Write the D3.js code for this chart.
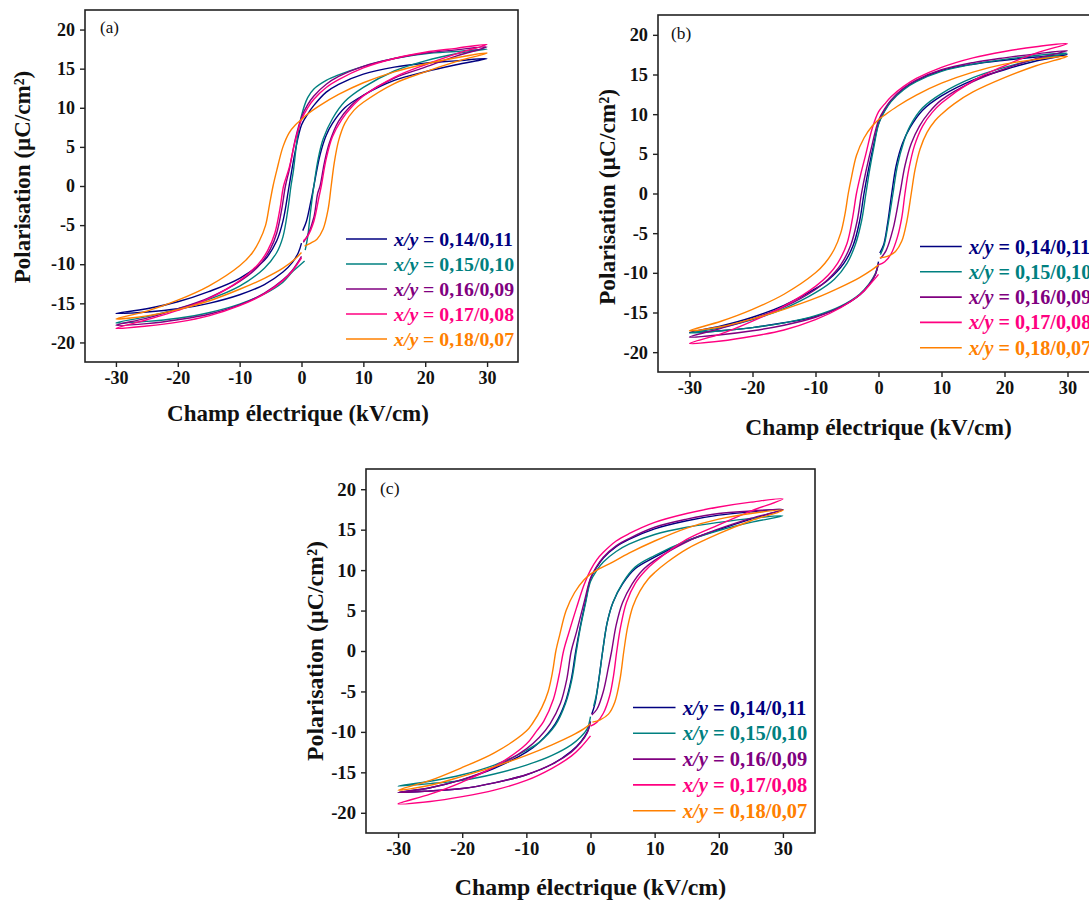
<!DOCTYPE html>
<html><head><meta charset="utf-8">
<script src="https://cdn.jsdelivr.net/npm/d3@7"></script>
<style>
html,body{margin:0;padding:0;background:#fff;}
svg{display:block;font-family:"Liberation Serif","Times New Roman",serif;}
</style></head>
<body><svg id="chart" width="1089" height="900"></svg>
<script>
// ---------- data ----------
const categories = ["0,14/0,11","0,15/0,10","0,16/0,09","0,17/0,08","0,18/0,07"];
const seriesColors = ["#000080","#008080","#800080","#ff0080","#ff8000"];
const xTicks = [-30,-20,-10,0,10,20,30];
const yTicks = [20,15,10,5,0,-5,-10,-15,-20];
const panelLabels = ["(a)","(b)","(c)"];
const xTitle = "Champ électrique (kV/cm)";
const yTitle = "Polarisation (µC/cm²)";

// Panel (a) loops: [E (kV/cm), P (µC/cm²)]
const a014 = [[0.2,-5.7],[0.8,-4.5],[1.5,-2],[2,0],[3,4],[4,6.5],[5,8],[7,10],[10,11.6],[15,13.5],[20,14.6],[25,15.5],[30,16.3],
  [25,16.0],[20,15.7],[15,15.2],[10,14.3],[6,13.0],[4,12],[2,10.3],[1,9.2],[0,7.8],[-1,4.5],[-2,0],[-3,-4.5],[-4,-7],[-6,-9.5],[-10,-11.8],[-15,-13.5],[-20,-14.8],[-25,-15.7],[-30,-16.3],
  [-25,-16.1],[-20,-15.7],[-15,-15.0],[-10,-13.9],[-6,-12.6],[-3,-11],[-1.5,-9.8],[-0.5,-8.5],[0,-7.3]];
const a015 = [[0.6,-8.2],[1,-6.5],[1.5,-3],[2,0],[2.7,3.5],[3.5,6],[5,8.6],[7,10.8],[10,12.6],[15,14.7],[20,16.0],[25,16.9],[30,17.5],
  [25,17.2],[20,16.9],[15,16.3],[10,15.3],[6,14.2],[4,13.5],[2,12.4],[1,11.3],[0,9.0],[-0.7,6],[-1.3,2],[-1.7,0],[-2.2,-3],[-3,-6.5],[-4,-8.5],[-6,-10.5],[-10,-12.8],[-15,-14.5],[-20,-15.7],[-25,-16.7],[-30,-17.5],
  [-25,-17.3],[-20,-16.9],[-15,-16.2],[-10,-15.1],[-6,-13.8],[-3,-12.3],[-1.5,-11],[-0.5,-10.3],[0.5,-9.6]];
const a016 = [[0.3,-7.2],[1,-6.3],[2,-4],[2.6,-1],[3,0],[3.7,3],[4.5,5.5],[6,8.3],[8,10.3],[10,11.6],[15,13.8],[20,15.2],[25,16.6],[30,17.8],
  [25,17.4],[20,17.0],[15,16.3],[10,15.3],[6,14.0],[4,13],[2,11.5],[1,10.4],[0,8.8],[-1,6],[-2,2],[-2.6,0],[-3.2,-3],[-4,-6],[-5,-8],[-7,-10.3],[-10,-12.2],[-15,-14.3],[-20,-15.7],[-25,-16.9],[-30,-17.8],
  [-25,-17.6],[-20,-17.1],[-15,-16.4],[-10,-15.2],[-6,-13.7],[-3,-12],[-1.5,-10.8],[0,-9]];
const a017 = [[0.3,-7.0],[1,-6.4],[2,-4.5],[2.8,-1.5],[3.2,0],[4,3.5],[5,6.3],[6.5,8.5],[8,10],[10,11.5],[15,13.9],[20,15.5],[25,16.9],[30,18.1],
  [25,17.6],[20,17.1],[15,16.3],[10,15.1],[6,13.6],[4,12.6],[2,11.1],[1,10],[0,8.5],[-1,5.8],[-2,2.3],[-2.9,0],[-3.5,-3],[-4.3,-6],[-5.5,-8.3],[-7,-10],[-10,-12.1],[-15,-14.4],[-20,-15.9],[-25,-17.1],[-30,-18.2],
  [-25,-17.9],[-20,-17.4],[-15,-16.6],[-10,-15.3],[-6,-13.8],[-3,-12.1],[-1.5,-10.9],[0,-9.2]];
const a018 = [[0.5,-7.7],[1.5,-7.3],[2.5,-6.8],[3.5,-5.5],[4.3,-3],[4.8,0],[5.3,3],[6,5.8],[7,8],[8.5,9.7],[10,10.7],[15,13.1],[20,14.6],[25,15.9],[30,17.0],
  [25,16.4],[20,15.6],[15,14.6],[10,13.2],[6,11.7],[3,10.3],[1,9.2],[0,8.5],[-1,7.8],[-2,6.8],[-3,5],[-4,2],[-4.6,0],[-5.2,-2.5],[-5.8,-5],[-6.8,-7],[-8,-8.6],[-10,-10.2],[-15,-12.8],[-20,-14.6],[-25,-16],[-30,-17.0],
  [-25,-16.6],[-20,-15.8],[-15,-14.7],[-10,-13.2],[-6,-11.8],[-3,-10.5],[-1,-9.3],[0,-8.5]];

// Panel (b) loops
const b014 = [[0.2,-7.5],[0.8,-6.5],[1.4,-4],[2.1,0],[2.8,3.5],[3.8,6.3],[5,8.3],[7,10.5],[10,12.3],[15,14.3],[20,15.6],[25,16.7],[30,17.5],
  [25,17.2],[20,16.8],[15,16.3],[10,15.5],[6,14.2],[4,13.2],[2,11.7],[1,10.5],[0,8.8],[-0.8,6],[-1.6,3],[-2.3,0],[-3,-3.5],[-4,-6.5],[-5.5,-8.8],[-8,-10.9],[-10,-12],[-15,-14.1],[-20,-15.6],[-25,-16.7],[-30,-17.5],
  [-25,-17.3],[-20,-16.9],[-15,-16.3],[-10,-15.5],[-6,-14.3],[-3,-12.8],[-1.5,-11.5],[-0.5,-10.2],[0,-8.6]];
const b015 = [[0.3,-7.7],[0.9,-6.5],[1.6,-3.5],[2.3,0],[3,3.5],[4,6.5],[5,8.5],[7,10.8],[10,12.6],[15,14.6],[20,15.9],[25,16.9],[30,17.7],
  [25,17.4],[20,16.9],[15,16.3],[10,15.4],[6,14.1],[4,13.1],[2,11.6],[1,10.4],[0,8.7],[-0.7,6],[-1.4,3],[-2.0,0],[-2.7,-3.5],[-3.7,-6.5],[-5,-8.8],[-7,-10.8],[-10,-12.5],[-15,-14.5],[-20,-15.9],[-25,-16.9],[-30,-17.6],
  [-25,-17.3],[-20,-16.9],[-15,-16.3],[-10,-15.4],[-6,-14.2],[-3,-12.7],[-1.5,-11.4],[-0.5,-10.1],[0,-8.8]];
const b016 = [[0.3,-8.2],[1.2,-7.2],[2.3,-4.5],[3.4,0],[4.2,3.5],[5.2,6.3],[6.5,8.5],[8,10.2],[10,11.8],[15,14.1],[20,15.7],[25,17],[30,18.0],
  [25,17.6],[20,17.1],[15,16.5],[10,15.6],[6,14.3],[4,13.3],[2,11.8],[1,10.7],[0,9.2],[-1,6.2],[-2,2.8],[-2.7,0],[-3.4,-3.5],[-4.4,-6.5],[-6,-9],[-8,-10.8],[-10,-12.1],[-15,-14.3],[-20,-15.8],[-25,-17],[-30,-18.1],
  [-25,-17.8],[-20,-17.3],[-15,-16.6],[-10,-15.6],[-6,-14.3],[-3,-12.8],[-1.5,-11.5],[-0.5,-10.2],[0,-8.8]];
const b017 = [[0,-9.0],[1,-8.6],[2,-7.6],[3,-5.5],[3.7,-3],[4.2,0],[4.8,3],[5.7,6],[7,8.5],[8.5,10.2],[10,11.4],[15,14.2],[20,16.1],[25,17.7],[30,18.9],
  [25,18.5],[20,17.9],[15,17.1],[10,15.9],[6,14.5],[4,13.5],[2,12.2],[1,11.3],[0,10.3],[-1,8.2],[-2,5],[-2.8,2.5],[-3.5,0],[-4.1,-3],[-5,-6.3],[-6.5,-8.8],[-8,-10.3],[-10,-11.7],[-15,-14.2],[-20,-16.1],[-25,-17.7],[-30,-18.9],
  [-25,-18.6],[-20,-18.0],[-15,-17.2],[-10,-15.9],[-6,-14.4],[-3,-12.8],[-1.5,-11.6],[0,-10.2]];
const b018 = [[0.2,-8.1],[1.5,-7.9],[2.7,-7.3],[3.7,-6],[4.5,-3.5],[5.2,0],[5.8,3],[6.6,5.6],[7.7,7.7],[9,9.2],[10,10],[12,11.3],[15,12.8],[20,14.6],[25,16.1],[30,17.3],
  [25,16.9],[20,16.3],[15,15.3],[10,13.9],[6,12.4],[3,11],[1,9.9],[0,9.3],[-1,8.5],[-2.3,7],[-3.5,4.8],[-4.3,2],[-4.8,0],[-5.3,-2.5],[-6,-5],[-7,-7],[-8.5,-8.8],[-10,-10],[-15,-12.7],[-20,-14.6],[-25,-16.1],[-30,-17.3],
  [-25,-16.8],[-20,-15.8],[-15,-14.6],[-10,-13.2],[-6,-11.8],[-3,-10.6],[-1,-9.6],[0,-9.0]];

// Panel (c) loops
const c014 = [[0.2,-7.8],[0.7,-6.5],[1.3,-3.5],[1.9,0],[2.6,3.5],[3.5,6],[5,8.3],[7,10.2],[10,11.6],[15,13.6],[20,15.0],[25,16.3],[30,17.5],
  [25,17.2],[20,16.8],[15,16.1],[10,15.1],[6,13.8],[4,12.9],[2,11.5],[1,10.4],[0,8.9],[-0.8,6],[-1.6,3],[-2.3,0],[-3,-3.5],[-4,-6.5],[-5.5,-9],[-8,-11.3],[-10,-12.5],[-15,-14.5],[-20,-15.9],[-25,-16.9],[-30,-17.5],
  [-25,-17.3],[-20,-17.0],[-15,-16.3],[-10,-15.3],[-6,-14.0],[-3,-12.4],[-1.5,-11.2],[-0.5,-10],[0,-8.7]];
const c015 = [[0.5,-6.8],[0.9,-5.5],[1.4,-3],[1.9,0],[2.6,3.5],[3.5,6],[5,8.4],[7,10.4],[10,11.8],[15,13.6],[20,14.9],[25,15.9],[30,16.7],
  [25,16.4],[20,15.9],[15,15.3],[10,14.4],[6,13.2],[4,12.3],[2,11],[1,10],[0,8.6],[-0.8,5.8],[-1.6,2.8],[-2.2,0],[-2.9,-3.5],[-3.9,-6.5],[-5.5,-9.2],[-8,-11.3],[-10,-12.3],[-15,-14.1],[-20,-15.3],[-25,-16.1],[-30,-16.7],
  [-25,-16.4],[-20,-16.0],[-15,-15.2],[-10,-14.1],[-6,-12.9],[-3,-11.6],[-1.5,-10.6],[-0.5,-9.6],[0,-8.1]];
const c016 = [[0.2,-7.9],[1,-7.2],[2,-5],[2.8,-2],[3.3,0],[4,3.2],[5,6],[6.5,8.3],[8,9.9],[10,11.2],[15,13.5],[20,15.1],[25,16.4],[30,17.5],
  [25,17.3],[20,17.0],[15,16.3],[10,15.3],[6,13.9],[4,13.0],[2,11.6],[1,10.5],[0,9.0],[-1,6],[-2.2,2.3],[-3,0],[-3.7,-3.5],[-4.7,-6.5],[-6.3,-9],[-8,-10.7],[-10,-12.1],[-15,-14.4],[-20,-15.9],[-25,-16.9],[-30,-17.5],
  [-25,-17.3],[-20,-17.0],[-15,-16.3],[-10,-15.3],[-6,-14.0],[-3,-12.5],[-1.5,-11.3],[-0.5,-10.1],[0,-8.8]];
const c017 = [[0,-9.3],[1,-8.8],[2,-7.7],[3,-5.5],[3.6,-3],[4.1,0],[4.7,3],[5.6,6],[7,8.4],[8.5,9.9],[10,11],[15,13.8],[20,15.6],[25,17.3],[30,18.8],
  [25,18.4],[20,17.8],[15,17.0],[10,15.9],[6,14.5],[4,13.6],[2,12.2],[1,11.3],[0,10.0],[-1,8.2],[-2.2,5.3],[-3.4,2.2],[-4.2,0],[-4.9,-3],[-5.8,-6],[-7.3,-8.7],[-8.5,-10],[-10,-11.5],[-15,-14.3],[-20,-16.2],[-25,-17.7],[-30,-18.9],
  [-25,-18.6],[-20,-18.0],[-15,-17.2],[-10,-16.0],[-6,-14.5],[-3,-13.0],[-1.5,-11.9],[0,-10.5]];
const c018 = [[0.3,-8.8],[1.5,-8.5],[2.8,-7.8],[3.8,-6.3],[4.6,-3.5],[5.2,0],[5.8,3],[6.6,5.5],[7.7,7.4],[9,8.9],[10,9.7],[12,11],[15,12.6],[20,14.5],[25,16.1],[30,17.4],
  [25,17.0],[20,16.3],[15,15.2],[10,13.6],[6,12.1],[3,10.8],[1,10],[0,9.5],[-1,8.8],[-2.5,7.2],[-3.8,5],[-4.8,2],[-5.4,0],[-5.9,-2.5],[-6.6,-5],[-7.6,-7],[-9,-8.9],[-10,-9.9],[-15,-12.6],[-20,-14.4],[-25,-16],[-30,-17.2],
  [-25,-16.6],[-20,-15.5],[-15,-14.3],[-10,-12.9],[-6,-11.6],[-3,-10.5],[-1,-9.6],[0,-9.0]];

const panelData = [[a014,a015,a016,a017,a018],[b014,b015,b016,b017,b018],[c014,c015,c016,c017,c018]];

// ---------- layout ----------
const layouts = [
  {l:85,  r:518,  t:10,  b:362, xt:413, xc:298,   yt:22,  yc:177, legX:346, legY:239,   legDy:25,   lab:[100,33]},
  {l:658, r:1099, t:15,  b:372, xt:427, xc:878.5, yt:607, yc:197, legX:920, legY:246.5, legDy:25.3, lab:[671,39]},
  {l:366, r:815,  t:469, b:833, xt:887, xc:590.5, yt:315, yc:651, legX:633, legY:707.5, legDy:25.8, lab:[380,494]}
];

const svg = d3.select("#chart");
const axisColor = "#222";

panelData.forEach((loops, pi) => {
  const L = layouts[pi];
  const s = (L.r - L.l) / 433;
  const g = svg.append("g");
  const x = d3.scaleLinear().domain([-35,35]).range([L.l, L.r]);
  const y = d3.scaleLinear().domain([-22.5,22.5]).range([L.b, L.t]);

  // curves
  const line = d3.line().x(d=>x(d[0])).y(d=>y(d[1])).curve(d3.curveCatmullRom.alpha(0.5));
  loops.forEach((pts, si) => {
    g.append("path").attr("d", line(pts)).attr("fill","none")
      .attr("stroke", seriesColors[si]).attr("stroke-width",1.4);
  });

  // frame
  g.append("rect").attr("x",L.l).attr("y",L.t).attr("width",L.r-L.l).attr("height",L.b-L.t)
    .attr("fill","none").attr("stroke",axisColor).attr("stroke-width",1.6);

  // axes
  const fmt = d => String(d);
  const xa = g.append("g").attr("transform",`translate(0,${L.b})`)
    .call(d3.axisBottom(x).tickValues(xTicks).tickFormat(fmt).tickSize(5).tickSizeOuter(0).tickPadding(4));
  const ya = g.append("g").attr("transform",`translate(${L.l},0)`)
    .call(d3.axisLeft(y).tickValues(yTicks).tickFormat(fmt).tickSize(5).tickSizeOuter(0).tickPadding(5));
  [xa,ya].forEach(a=>{
    a.select(".domain").remove();
    a.selectAll("line").attr("stroke",axisColor).attr("stroke-width",1.4);
    a.selectAll("text").attr("font-family","Liberation Serif").attr("font-weight","bold")
      .attr("font-size",18*s).attr("fill","#111");
  });

  // titles
  g.append("text").attr("x",L.xc).attr("y",L.xt).attr("text-anchor","middle").attr("dy","0.35em")
    .attr("font-weight","bold").attr("font-size",23*s).attr("fill","#111").text(xTitle);
  g.append("text").attr("transform",`translate(${L.yt},${L.yc}) rotate(-90)`)
    .attr("text-anchor","middle").attr("dy","0.35em")
    .attr("font-weight","bold").attr("font-size",23*s).attr("fill","#111").text(yTitle);

  // panel label
  g.append("text").attr("x",L.lab[0]).attr("y",L.lab[1]).attr("font-size",17*s).attr("fill","#111").text(panelLabels[pi]);

  // legend
  categories.forEach((c, si) => {
    const yy = L.legY + si*L.legDy;
    g.append("line").attr("x1",L.legX).attr("x2",L.legX+41*s).attr("y1",yy).attr("y2",yy)
      .attr("stroke",seriesColors[si]).attr("stroke-width",1.6);
    const t = g.append("text").attr("x",L.legX+48*s).attr("y",yy).attr("dy","0.35em")
      .attr("font-weight","bold").attr("font-size",19.8*s).attr("fill",seriesColors[si]);
    t.append("tspan").attr("font-style","italic").text("x/y");
    t.append("tspan").text(" = " + c);
  });
});
</script></body></html>
